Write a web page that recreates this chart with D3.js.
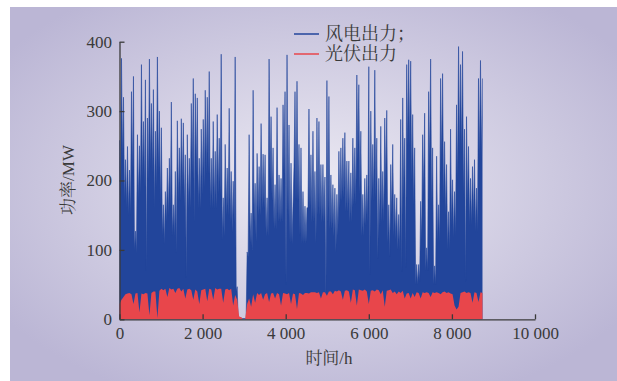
<!DOCTYPE html>
<html><head><meta charset="utf-8">
<script src="https://cdn.jsdelivr.net/npm/d3@7"></script>
<style>body{margin:0;background:#fff}svg{display:block}</style>
</head><body>
<svg id="c" width="617" height="381"></svg>
<script>
// ---- data ----
// wind peaks sampled every 48 h (hour 48k), troughs between them (hour 48k+24)
const windPeak = [
258,376,320,230,249,215,328,350,127,266,250,367,285,345,290,375,311,331,271,378,
300,276,165,184,218,232,313,165,213,286,247,289,283,237,266,232,
311,347,325,319,232,274,288,330,320,357,232,285,242,295,261,382,175,252,218,304,
213,199,378,47,3,2,1,1,97,266,153,330,196,239,220,282,238,
237,175,375,292,247,194,305,208,203,309,328,381,280,225,165,328,343,252,247,184,
163,161,303,237,271,213,290,285,223,223,205,344,321,208,194,189,180,
242,247,261,269,228,228,211,261,247,352,338,271,180,203,208,364,300,252,359,261,
203,278,213,290,301,165,223,252,180,175,151,288,319,261,367,374,372,
295,247,79,79,170,266,297,103,328,375,247,77,235,165,347,354,256,223,155,274,
201,184,309,393,367,386,274,292,249,203,220,230,189,347,373,347];
const windLow = [
180,230,170,160,150,150,210,100,95,170,180,200,190,70,200,220,210,160,190,210,
165,120,108,140,150,160,120,120,95,170,170,190,160,60,160,160,
210,140,210,160,160,180,190,210,210,160,160,160,160,180,180,115,120,150,150,140,
125,140,40,2,2,1,1,1,90,110,100,140,112,150,150,160,160,
120,120,200,170,130,130,140,140,140,210,50,150,110,108,220,170,170,120,110,110,
110,160,160,140,140,110,150,150,140,140,30,140,130,130,120,97,120,
160,170,175,155,155,140,140,165,165,230,180,120,120,135,140,64,170,170,175,87,
135,140,140,195,110,90,150,120,115,100,100,69,175,75,250,250,200,
165,50,50,55,115,180,70,70,220,165,50,50,110,110,230,170,150,100,100,135,
117,120,200,240,240,180,55,165,135,135,145,125,125,230,230];
// solar daily maxima sampled every 48 h
const solarPeak = [
22,28,32,36,37,38,36,22,37,38,10,37,36,38,37,6,38,40,40,2,
41,44,42,44,32,45,43,44,38,44,45,40,44,30,43,44,
42,28,43,40,22,42,43,44,26,44,43,28,45,43,44,44,24,43,44,42,
44,20,35,28,4,3,0,0,22,30,18,36,24,38,35,38,28,
36,38,25,37,38,30,38,36,20,38,37,36,38,22,37,36,15,38,37,35,
38,38,37,39,39,39,38,39,30,39,39,34,40,40,36,41,40,
42,40,28,41,42,40,24,43,42,20,43,42,41,43,40,22,41,42,40,43,
42,36,42,18,41,42,43,38,40,36,40,38,41,30,37,38,30,
38,32,39,38,30,39,38,39,38,32,39,38,39,38,36,39,40,38,39,37,
36,20,14,18,38,39,40,38,39,38,24,39,38,25,39,38];
const stepHours = 48;
const xTicks = [0,2000,4000,6000,8000,10000];
const xTickLabels = ["0","2 000","4 000","6 000","8 000","10 000"];
const yTicks = [0,100,200,300,400];
const yTickLabels = ["0","100","200","300","400"];
const legendLabels = ["风电出力；","光伏出力"];
const colors = ["#22459b","#e8464b"];

// ---- drawing ----
const svg = d3.select("#c");
const defs = svg.append("defs");
const g = defs.append("radialGradient").attr("id","bg").attr("cx","50%").attr("cy","48%").attr("r","62%");
g.append("stop").attr("offset","0%").attr("stop-color","#eceaf3");
g.append("stop").attr("offset","100%").attr("stop-color","#bbb6d5");
svg.append("rect").attr("x",10).attr("y",7).attr("width",607).attr("height",374).attr("fill","url(#bg)");

const x = d3.scaleLinear().domain([0,10000]).range([119.5,535]);
const y = d3.scaleLinear().domain([0,400]).range([319.3,41.7]);

const windPts = [];
windPeak.forEach((v,i)=>{
  windPts.push([i*stepHours, v]);
  if (i < windLow.length) windPts.push([i*stepHours + stepHours/2, windLow[i]]);
});
const solarPts = solarPeak.map((v,i)=>[i*stepHours, v]);

const area = d3.area().x(d=>x(d[0])).y0(y(0)).y1(d=>y(d[1]));
svg.append("path").datum(windPts).attr("d",area).attr("fill",colors[0]);
svg.append("path").datum(windPts).attr("d",d3.line().x(d=>x(d[0])).y(d=>y(d[1])))
  .attr("fill","none").attr("stroke",colors[0]).attr("stroke-width",0.6);
svg.append("path").datum(solarPts).attr("d",area).attr("fill",colors[1]);

const font = "'Liberation Serif','Times New Roman',serif";
const cjk = "'Liberation Serif','Noto Serif CJK SC','Noto Sans CJK SC',serif";
const axColor = "#3a3a3a";

const ax = svg.append("g").attr("transform",`translate(0,${y(0)})`)
  .call(d3.axisBottom(x).tickValues(xTicks).tickFormat((d,i)=>xTickLabels[i]).tickSizeInner(-5).tickSizeOuter(0).tickPadding(8));
const ay = svg.append("g").attr("transform",`translate(${x(0)},0)`)
  .call(d3.axisLeft(y).tickValues(yTicks).tickFormat((d,i)=>yTickLabels[i]).tickSizeInner(-5).tickSizeOuter(0).tickPadding(7.5));
[ax,ay].forEach(a=>{
  a.select(".domain").attr("stroke",axColor).attr("stroke-width",1.3);
  a.selectAll(".tick line").attr("stroke",axColor).attr("stroke-width",1.3);
  a.selectAll(".tick text").attr("fill",axColor).style("font-family",font).style("font-size","17px");
});

svg.append("text").attr("x",329).attr("y",364).attr("text-anchor","middle")
  .style("font-family",cjk).style("font-size","17px").attr("fill",axColor).text("时间/h");
svg.append("text").attr("transform","translate(74,180) rotate(-90)").attr("text-anchor","middle")
  .style("font-family",cjk).style("font-size","17px").attr("fill",axColor).text("功率/MW");

legendLabels.forEach((t,i)=>{
  const ly = 34 + i*20;
  svg.append("line").attr("x1",294).attr("x2",319).attr("y1",ly).attr("y2",ly)
    .attr("stroke",colors[i]).attr("stroke-width",1.5);
  svg.append("text").attr("x",325).attr("y",ly+6).style("font-family",cjk).style("font-size","18px")
    .attr("fill",axColor).text(t);
});
</script>
</body></html>
